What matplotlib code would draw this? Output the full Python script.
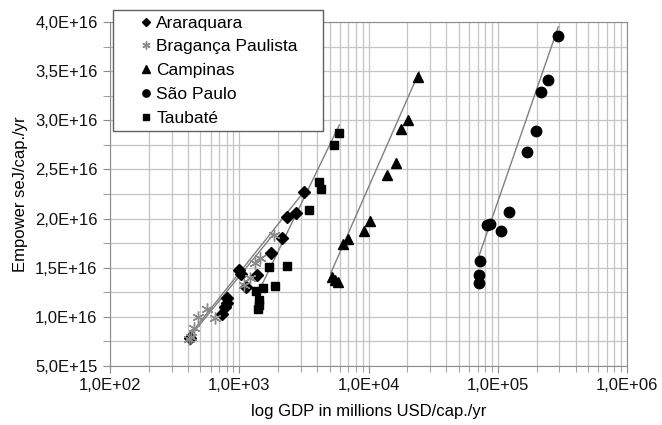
import numpy as np
import matplotlib
matplotlib.use("Agg")
import matplotlib.pyplot as plt
from matplotlib.ticker import FixedLocator, FuncFormatter, LogLocator, NullFormatter
from matplotlib.patches import Rectangle

plt.rcParams['font.family'] = ['Liberation Sans', 'DejaVu Sans']

# GDP (millions USD/cap./yr) and empower (seJ/cap./yr)
arar_x = [416, 731, 776, 800, 808, 1004, 1023, 1128, 1365, 1751, 2153, 2354, 2734, 3170]
arar_y = [0.78e16, 1.029e16, 1.103e16, 1.144e16, 1.189e16, 1.472e16, 1.436e16, 1.301e16,
          1.426e16, 1.647e16, 1.799e16, 2.013e16, 2.060e16, 2.274e16]

brag_x = [412, 427, 449, 482, 560, 649, 1094, 1211, 1324, 1454, 1867]
brag_y = [0.775e16, 0.795e16, 0.890e16, 1.002e16, 1.077e16, 0.985e16, 1.324e16, 1.392e16,
          1.545e16, 1.596e16, 1.833e16]

camp_x = [5248, 5507, 5838, 6316, 6903, 9230, 10270, 13980, 16240, 17840, 20320, 24280]
camp_y = [1.403e16, 1.375e16, 1.358e16, 1.738e16, 1.792e16, 1.874e16, 1.972e16, 2.443e16,
          2.562e16, 2.908e16, 3.003e16, 3.438e16]

sp_x = [71220, 72000, 72900, 82560, 87880, 106500, 122900, 168400, 197700, 216000, 246100, 290900]
sp_y = [1.345e16, 1.429e16, 1.568e16, 1.932e16, 1.943e16, 1.877e16, 2.067e16, 2.677e16,
        2.891e16, 3.291e16, 3.410e16, 3.858e16]

taub_x = [1404, 1414, 1429, 1348, 1535, 1708, 1901, 2329, 3483, 4163, 4268, 5409, 5945]
taub_y = [1.077e16, 1.121e16, 1.172e16, 1.266e16, 1.297e16, 1.504e16, 1.317e16, 1.521e16,
          2.087e16, 2.375e16, 2.304e16, 2.749e16, 2.874e16]

# trendline end points (logarithmic trend)
arar_tx, arar_ty = [408, 3170], [0.805e16, 2.274e16]
brag_tx, brag_ty = [408, 1867], [0.785e16, 1.850e16]
camp_tx, camp_ty = [5099, 24720], [1.443e16, 3.495e16]
sp_tx, sp_ty = [71590, 294100], [1.619e16, 3.952e16]
taub_tx, taub_ty = [1348, 5945], [1.202e16, 2.952e16]

series = [
    ("Araraquara", arar_x, arar_y, arar_tx, arar_ty,
     dict(marker='D', ms=6.3, mfc='black', mec='black')),
    ("Bragança Paulista", brag_x, brag_y, brag_tx, brag_ty,
     dict(marker=(6, 2, 0), ms=8.5, mfc='none', mec='#8a8a8a', mew=1.0)),
    ("Campinas", camp_x, camp_y, camp_tx, camp_ty,
     dict(marker='^', ms=7.5, mfc='black', mec='black')),
    ("São Paulo", sp_x, sp_y, sp_tx, sp_ty,
     dict(marker='o', ms=7.5, mfc='black', mec='black')),
    ("Taubaté", taub_x, taub_y, taub_tx, taub_ty,
     dict(marker='s', ms=6, mfc='black', mec='black')),
]

fig = plt.figure(figsize=(6.62, 4.25), dpi=100)
ax = fig.add_axes([110/662, 1-366/425, 517/662, 344/425])

handles = []
for name, xs, ys, tx, ty, st in series:
    ax.plot(tx, ty, color='#808080', lw=1.0, zorder=2)
    h, = ax.plot(xs, ys, ls='none', zorder=3, label=name, **st)
    handles.append(h)

ax.set_xscale('log')
ax.set_xlim(1e2, 1e6)
ax.set_ylim(5e15, 4e16)

fmt = FuncFormatter(lambda v, p: f"{v:.1E}".replace('.', ','))
ax.xaxis.set_major_locator(LogLocator(base=10, numticks=10))
ax.xaxis.set_minor_locator(LogLocator(base=10, subs=np.arange(2, 10), numticks=20))
ax.xaxis.set_major_formatter(fmt)
ax.xaxis.set_minor_formatter(NullFormatter())
ax.yaxis.set_major_locator(FixedLocator(np.arange(5e15, 4.01e16, 5e15)))
ax.yaxis.set_minor_locator(FixedLocator(np.arange(7.5e15, 4e16, 5e15)))
ax.yaxis.set_major_formatter(fmt)

ax.grid(True, which='both', color='#c4c4c4', lw=0.9, zorder=0)
ax.set_axisbelow(True)
for s in ax.spines.values():
    s.set_color('#8c8c8c')
ax.tick_params(which='both', direction='out', color='#8c8c8c', labelsize=12, labelcolor='#111111')
ax.tick_params(axis='x', which='major', length=5, pad=4)
ax.tick_params(axis='x', which='minor', length=4)
ax.tick_params(axis='y', which='both', length=5, pad=4)

ax.set_xlabel("log GDP in millions USD/cap./yr", fontsize=12)
ax.xaxis.set_label_coords(0.5, -0.11)
ax.set_ylabel("Empower seJ/cap./yr", fontsize=12)
ax.yaxis.set_label_coords(-0.158, 0.5)

fig.patches.append(Rectangle((113/662, 1-131/425), 210/662, 121/425, transform=fig.transFigure,
                             facecolor='white', edgecolor='#606060', lw=1.0, zorder=5))
fig.legend(handles=handles, loc='upper left', bbox_to_anchor=(139/662, 1-15.5/425),
           frameon=False, fontsize=12.5, markerscale=0.7, handlelength=0.85,
           handletextpad=0.15, borderpad=0, borderaxespad=0, labelspacing=0.5).set_zorder(6)

fig.savefig("out.png", dpi=100)
